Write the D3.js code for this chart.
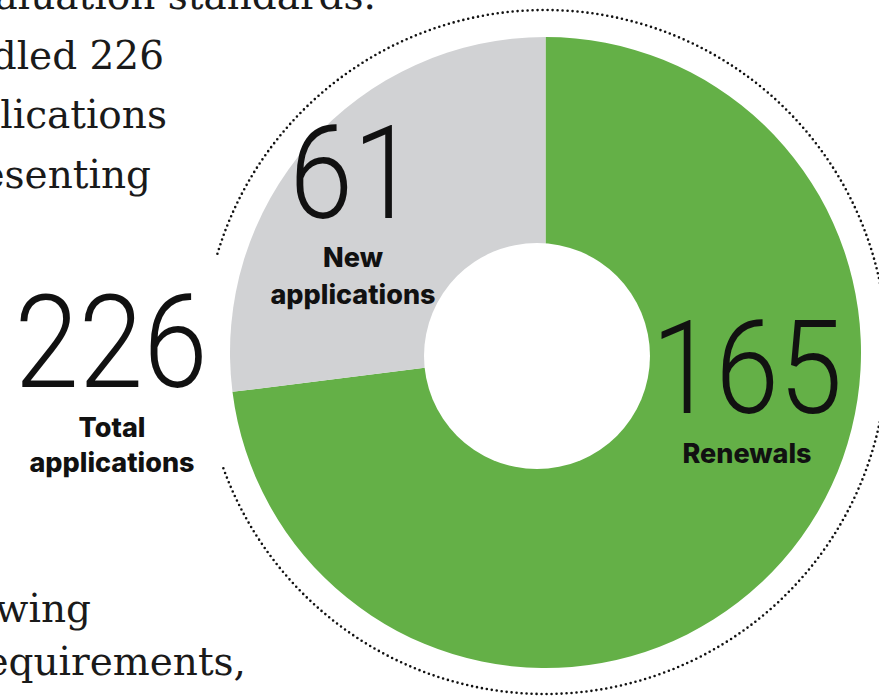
<!DOCTYPE html>
<html>
<head>
<meta charset="utf-8">
<script src="https://cdn.jsdelivr.net/npm/d3@7"></script>
<style>
  html, body { margin: 0; padding: 0; background: #fff; overflow: hidden; }
  .big { font-family: Roboto, "Liberation Sans", sans-serif; font-weight: 300; fill: #111; }
  .lbl { font-family: Inter, Roboto, sans-serif; font-weight: 800; fill: #111; }
  .body { font-family: "DejaVu Serif", serif; fill: #1a1a1a; }
</style>
</head>
<body>
<div id="chart"></div>
<script>
// Data
const categories = ["Renewals", "New applications"];
const values = [165, 61];
const colors = ["#64b047", "#d1d2d4"];
const totalLabel = ["Total", "applications"];

// bits of the article text around the chart (cut off by the crop)
const bodyLines = [
  { text: "aluation standards.", x: 376, y: 9 },
  { text: "dled 226", x: 164, y: 69 },
  { text: "lications", x: 167, y: 128 },
  { text: "esenting", x: 151, y: 188 },
  { text: "wing", x: 91, y: 622 },
  { text: "equirements,", x: 246, y: 675 }
];

const width = 879, height = 697;
const cx = 545.5, cy = 352.5;
const outerR = 315.5;

const svg = d3.select('#chart')
    .append('svg')
    .attr('width', width)
    .attr('height', height);

// article text
svg.selectAll('.body')
    .data(bodyLines)
    .enter().append('text')
    .attr('class', 'body')
    .attr('x', d => d.x)
    .attr('y', d => d.y)
    .attr('text-anchor', 'end')
    .style('font-size', '39px')
    .text(d => d.text);

// dotted ring, open on the left where the total sits
// (single pass path, d3.arc would trace it twice)
const toRad = a => (a - 90) * Math.PI / 180;
const ring = d3.path();
ring.arc(0, 0, 342, toRad(-73.3), toRad(250.6));

svg.append('path')
    .attr('transform', `translate(${cx - 0.5}, ${cy - 0.5})`)
    .attr('d', ring.toString())
    .attr('fill', 'none')
    .attr('stroke', '#111')
    .attr('stroke-width', 2.6)
    .attr('stroke-linecap', 'round')
    .attr('stroke-dasharray', '0 5');

// donut
const pie = d3.pie().sort(null).value(d => d);
const arc = d3.arc().innerRadius(0).outerRadius(outerR);

const g = svg.append('g')
    .attr('transform', `translate(${cx}, ${cy})`);

g.selectAll('.slice')
    .data(pie(values))
    .enter().append('path')
    .attr('class', 'slice')
    .attr('d', arc)
    .attr('fill', (d, i) => colors[i]);

// hole (sits a little left/down of the ring centre)
svg.append('circle')
    .attr('cx', cx - 8.5)
    .attr('cy', cy + 3.5)
    .attr('r', 113)
    .attr('fill', '#fff');

// labels
const labelPos = [
  { num: [747, 413], lines: [[747, 463]] },
  { num: [353, 218], lines: [[353, 267], [353, 304]] }
];

categories.forEach((c, i) => {
    const p = labelPos[i];
    svg.append('text')
        .attr('class', 'big')
        .attr('text-anchor', 'middle')
        .attr('transform', `translate(${p.num[0]}, ${p.num[1]}) scale(0.89, 1)`)
        .style('font-size', '129px')
        .text(values[i]);
    const words = c === "New applications" ? ["New", "applications"] : [c];
    words.forEach((w, j) => {
        svg.append('text')
            .attr('class', 'lbl')
            .attr('x', p.lines[j][0])
            .attr('y', p.lines[j][1])
            .attr('text-anchor', 'middle')
            .style('font-size', '27px')
            .text(w);
    });
});

// total on the left
svg.append('text')
    .attr('class', 'big')
    .attr('text-anchor', 'middle')
    .attr('transform', `translate(111, 387) scale(0.9, 1)`)
    .style('font-size', '129px')
    .text(d3.sum(values));

totalLabel.forEach((w, j) => {
    svg.append('text')
        .attr('class', 'lbl')
        .attr('x', 112)
        .attr('y', 437 + j * 35)
        .attr('text-anchor', 'middle')
        .style('font-size', '27px')
        .text(w);
});
</script>
</body>
</html>
